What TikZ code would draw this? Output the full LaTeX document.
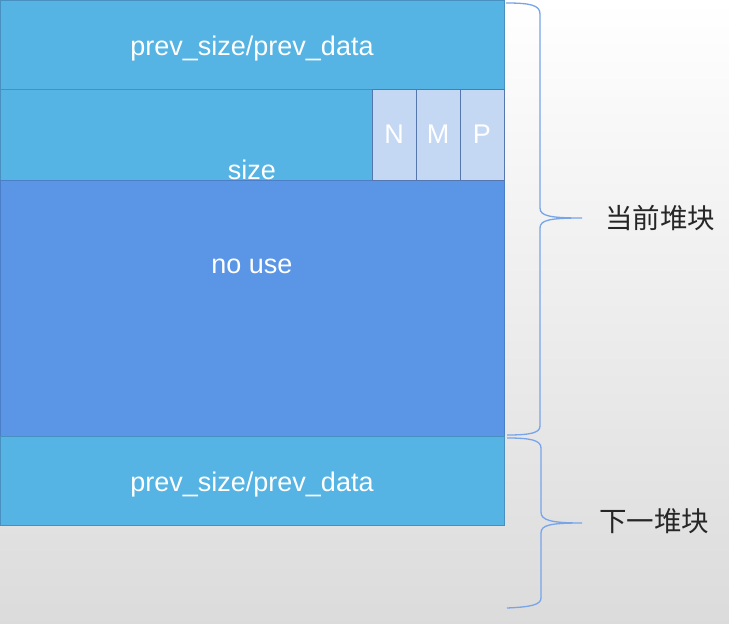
\documentclass[tikz,border=0pt]{standalone}
\usepackage{fontspec}
\setmainfont{Liberation Sans}
\newfontfamily\cjk{Noto Sans CJK SC}
\definecolor{cyanfill}{HTML}{55B4E3}
\definecolor{cyanline}{HTML}{4790BF}
\definecolor{bluefill}{HTML}{5B95E5}
\definecolor{blueline}{HTML}{4A7EC6}
\definecolor{palefill}{HTML}{C4D8F4}
\definecolor{paleline}{HTML}{5676AE}
\definecolor{bracecol}{HTML}{78A4EA}
\begin{document}
\begin{tikzpicture}[x=1pt,y=-1pt,
  field/.style={draw=cyanline,fill=cyanfill,line width=1pt},
  bigfield/.style={draw=blueline,fill=bluefill,line width=1pt},
  flag/.style={draw=paleline,fill=palefill,line width=1pt},
  wtxt/.style={text=white,font=\fontsize{27}{30}\selectfont,inner sep=0pt},
  ctxt/.style={text=black!85,font=\cjk\fontsize{27.5}{30}\selectfont,inner sep=0pt},
  bracestyle/.style={draw=bracecol,line width=1.3pt}]
\useasboundingbox (0,0) rectangle (729,624);
\shade[top color=white,bottom color=black!14] (0,0) rectangle (729,624);
% boxes
\draw[field] (0,0) rectangle (504,89);
\draw[field] (0,89) rectangle (504,180);
\draw[bigfield] (0,180) rectangle (504,436);
\draw[field] (0,436) rectangle (504,525);
\draw[flag] (372,89) rectangle (416,180);
\draw[flag] (416,89) rectangle (460,180);
\draw[flag] (460,89) rectangle (504,180);
% texts
\node[wtxt] (t1) at (252,49) {prev\_size/prev\_data};
\node[wtxt] (t2) at (252,170) {size};
\node[wtxt] (fn) at (394,134) {N};
\node[wtxt] (fm) at (438,134) {M};
\node[wtxt] (fp) at (482,134) {P};
\node[wtxt] (t3) at (252,266) {no use};
\node[wtxt] (t4) at (252,485) {prev\_size/prev\_data};
\node[ctxt] (l1) at (660,218) {当前堆块};
\node[ctxt] (l2) at (654,521) {下一堆块};
% braces
\draw[bracestyle] (506,3) .. controls (530,3) and (540,5) .. (540,14)
  -- (540,208) .. controls (540,216) and (550,218) .. (582,218)
  .. controls (550,218) and (540,220) .. (540,228)
  -- (540,426) .. controls (540,433) and (530,435) .. (507,435);
\draw[bracestyle] (507,438) .. controls (530,438) and (541,440) .. (541,448)
  -- (541,512) .. controls (541,520) and (550,523) .. (582,523)
  .. controls (550,523) and (541,525) .. (541,533)
  -- (541,598) .. controls (541,605) and (530,607) .. (507,608);
\end{tikzpicture}
\end{document}
